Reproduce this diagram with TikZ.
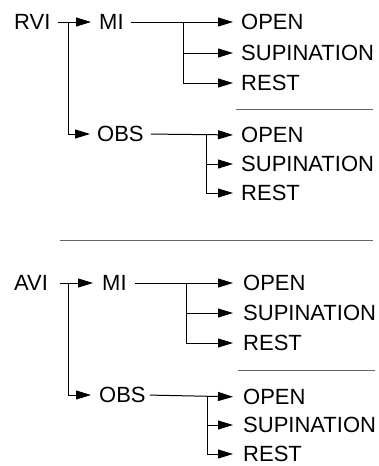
\documentclass[tikz,border=0pt]{standalone}
\usepackage{fontspec}
\setmainfont{Liberation Sans}
\usetikzlibrary{arrows.meta}
\begin{document}
\begin{tikzpicture}[x=1pt,y=-1pt,
  lbl/.style={anchor=west,inner sep=0pt,font=\fontsize{22}{22}\selectfont},
  conn/.style={line width=1pt,black},
  arr/.style={conn,-{Triangle[length=15pt,width=9pt]}},
  sep/.style={line width=1pt,black!60}]
\useasboundingbox (0,0) rectangle (379,466);
% ---------- top tree ----------
\node[lbl] (RVI) at (14,22) {RVI};
\node[lbl] (MI1) at (99,22) {MI};
\node[lbl] (OBS1) at (97,134) {OBS};
\node[lbl] (O1) at (241,22) {OPEN};
\node[lbl] (S1) at (241,53) {SUPINATION};
\node[lbl] (R1) at (241,83) {REST};
\node[lbl] (O2) at (241,135) {OPEN};
\node[lbl] (S2) at (241,164) {SUPINATION};
\node[lbl] (R2) at (241,193) {REST};
\coordinate (j1) at (68,22);
\coordinate (j2) at (183,22);
\coordinate (j3) at (206,135);
\draw[arr,shorten <=7pt,shorten >=8pt] (RVI.east) -- (MI1.west);
\draw[arr,shorten >=7pt] (j1) |- (OBS1.west);
\draw[arr,shorten <=7pt,shorten >=8pt] (MI1.east) -- (O1.west);
\draw[arr,shorten >=8pt] (j2) |- (S1.west);
\draw[arr,shorten >=8pt] (j2) |- (R1.west);
\draw[arr,shorten <=7pt,shorten >=8pt] (OBS1.east) -- (O2.west);
\draw[arr,shorten >=8pt] (j3) |- (S2.west);
\draw[arr,shorten >=8pt] (j3) |- (R2.west);
\coordinate (s1a) at (236,109); \coordinate (s1b) at (373,109);
\draw[sep] (s1a) -- (s1b);
\coordinate (s2a) at (60,240); \coordinate (s2b) at (373,240);
\draw[sep] (s2a) -- (s2b);
% ---------- bottom tree ----------
\node[lbl] (AVI) at (14,283) {AVI};
\node[lbl] (MI2) at (102,283) {MI};
\node[lbl] (OBS2) at (99,395) {OBS};
\node[lbl] (O3) at (243,283) {OPEN};
\node[lbl] (S3) at (243,313) {SUPINATION};
\node[lbl] (R3) at (243,343) {REST};
\node[lbl] (O4) at (243,397) {OPEN};
\node[lbl] (S4) at (243,425) {SUPINATION};
\node[lbl] (R4) at (243,454) {REST};
\coordinate (k1) at (68,283);
\coordinate (k2) at (186,283);
\coordinate (k3) at (207,397);
\draw[arr,shorten <=12pt,shorten >=9pt] (AVI.east) -- (MI2.west);
\draw[arr,shorten >=8pt] (k1) |- (OBS2.west);
\draw[arr,shorten <=8pt,shorten >=10pt] (MI2.east) -- (O3.west);
\draw[arr,shorten >=10pt] (k2) |- (S3.west);
\draw[arr,shorten >=10pt] (k2) |- (R3.west);
\draw[arr,shorten <=4pt,shorten >=10pt] (OBS2.east) -- (O4.west);
\draw[arr,shorten >=10pt] (k3) |- (S4.west);
\draw[arr,shorten >=10pt] (k3) |- (R4.west);
\coordinate (s3a) at (238,370); \coordinate (s3b) at (375,370);
\draw[sep] (s3a) -- (s3b);
\end{tikzpicture}
\end{document}
